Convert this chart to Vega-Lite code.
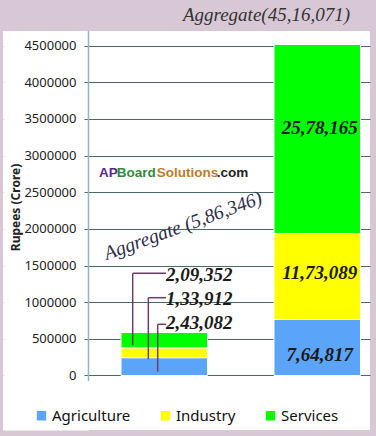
{
  "$schema": "https://vega.github.io/schema/vega-lite/v6.json",
  "width": 367,
  "height": 399,
  "autosize": {"type": "none"},
  "padding": {"left": 3, "top": 31, "right": 6, "bottom": 6},
  "background": "#d8c8d6",
  "config": {"view": {"fill": "white", "stroke": null}, "font": "Noto Sans"},
  "title": {"text": "Aggregate(45,16,071)", "anchor": "end", "dx": -20, "offset": -9.7, "baseline": "alphabetic", "font": "Liberation Serif", "fontStyle": "italic", "fontWeight": "normal", "fontSize": 19, "color": "#333333"},
  "datasets": {
    "main": [
      {"period": "1972-73", "sector": "Agriculture", "value": 243082, "label": "2,43,082"},
      {"period": "1972-73", "sector": "Industry", "value": 133912, "label": "1,33,912"},
      {"period": "1972-73", "sector": "Services", "value": 209352, "label": "2,09,352"},
      {"period": "2009-10", "sector": "Agriculture", "value": 764817, "label": "7,64,817"},
      {"period": "2009-10", "sector": "Industry", "value": 1173089, "label": "11,73,089"},
      {"period": "2009-10", "sector": "Services", "value": 2578165, "label": "25,78,165"}
    ]
  },
  "data": {"name": "main"},
  "resolve": {"axis": {"y": "independent"}},
  "layer": [
    {
      "mark": {"type": "bar", "stroke": "white", "strokeWidth": 1},
      "encoding": {
        "x": {"field": "period", "type": "nominal",
          "scale": {"paddingInner": 0.4346, "paddingOuter": 0.4167, "align": 0.9255},
          "axis": {"title": null, "orient": "bottom", "offset": -54.5, "domain": false, "grid": false, "tickBand": "extent", "ticks": true, "tickSize": 5.5, "tickColor": "#8fbcbc", "tickWidth": 1, "labelAngle": 0, "labelFontSize": 13, "labelFont": "Noto Sans", "labelColor": "#222222", "labelPadding": 11}},
        "y": {"field": "value", "type": "quantitative", "stack": "zero",
          "scale": {"domain": [-743700, 4700600], "zero": false, "nice": false},
          "axis": {"orient": "left", "values": [0, 500000, 1000000, 1500000, 2000000, 2500000, 3000000, 3500000, 4000000, 4500000], "grid": true, "gridColor": "#4d6868", "gridWidth": 1, "domain": false, "ticks": false, "labels": false, "title": null}},
        "color": {"field": "sector", "type": "nominal",
          "scale": {"domain": ["Agriculture", "Industry", "Services"], "range": ["#5aa5fa", "#ffff00", "#00ff00"]},
          "legend": {"orient": "none", "legendX": 31, "legendY": 377, "direction": "horizontal", "title": null, "symbolType": "square", "symbolSize": 110, "symbolStrokeWidth": 1, "labelFontSize": 15, "labelFont": "Noto Sans", "labelColor": "#111111", "labelOffset": 3, "columnPadding": 27, "padding": 0}},
        "order": {"field": "sector", "sort": "ascending"}
      }
    },
    {
      "transform": [{"filter": "datum.period === '1972-73' && datum.sector === 'Agriculture'"}],
      "mark": {"type": "point", "opacity": 0},
      "encoding": {
        "y": {"datum": 0, "type": "quantitative",
          "axis": {"orient": "left", "offset": -42.75, "domain": true, "domainColor": "white", "domainWidth": 85.5, "domainOpacity": 1, "ticks": false, "labels": false, "grid": false, "title": null}}
      }
    },
    {
      "transform": [{"filter": "datum.period === '1972-73' && datum.sector === 'Agriculture'"}],
      "mark": {"type": "rule", "color": "#8cbaba", "strokeWidth": 1.5},
      "encoding": {
        "x": {"field": "period", "type": "nominal", "bandPosition": -0.376, "axis": null},
        "y": {"datum": 4700600, "type": "quantitative",
          "axis": {"orient": "left", "offset": -85.5, "domain": false, "grid": false, "values": [0, 500000, 1000000, 1500000, 2000000, 2500000, 3000000, 3500000, 4000000, 4500000], "format": "d", "ticks": true, "tickSize": 4.5, "tickColor": "#4d6868", "labelFont": "Noto Sans", "labelFontSize": 13, "labelColor": "#222222", "labelPadding": 8, "title": "Rupees (Crore)", "titleFont": "Noto Sans", "titleFontSize": 12, "titleFontWeight": "bold", "titleColor": "#222222", "titleX": -73.5, "titleY": 176, "titleAngle": -90, "titleBaseline": "middle", "titleAlign": "center"}},
        "y2": {"datum": -75000}
      }
    },
    {
      "transform": [{"filter": "datum.period === '1972-73' && datum.sector === 'Services'"}],
      "mark": {"type": "rule", "color": "#6e3d66", "strokeWidth": 1.5},
      "encoding": {
        "x": {"field": "period", "type": "nominal", "bandPosition": 0.135, "axis": null},
        "y": {"datum": 1394500, "type": "quantitative", "axis": null},
        "y2": {"datum": 416160}
      }
    },
    {
      "transform": [{"filter": "datum.period === '1972-73' && datum.sector === 'Services'"}],
      "mark": {"type": "rule", "color": "#6e3d66", "strokeWidth": 1.5},
      "encoding": {
        "x": {"field": "period", "type": "nominal", "bandPosition": 0.135, "axis": null},
        "x2": {"field": "period", "bandPosition": 0.52},
        "y": {"datum": 1394500, "type": "quantitative", "axis": null}
      }
    },
    {
      "transform": [{"filter": "datum.period === '1972-73' && datum.sector === 'Industry'"}],
      "mark": {"type": "rule", "color": "#6e3d66", "strokeWidth": 1.5},
      "encoding": {
        "x": {"field": "period", "type": "nominal", "bandPosition": 0.316, "axis": null},
        "y": {"datum": 1061550, "type": "quantitative", "axis": null},
        "y2": {"datum": 221040}
      }
    },
    {
      "transform": [{"filter": "datum.period === '1972-73' && datum.sector === 'Industry'"}],
      "mark": {"type": "rule", "color": "#6e3d66", "strokeWidth": 1.5},
      "encoding": {
        "x": {"field": "period", "type": "nominal", "bandPosition": 0.316, "axis": null},
        "x2": {"field": "period", "bandPosition": 0.52},
        "y": {"datum": 1061550, "type": "quantitative", "axis": null}
      }
    },
    {
      "transform": [{"filter": "datum.period === '1972-73' && datum.sector === 'Agriculture'"}],
      "mark": {"type": "rule", "color": "#6e3d66", "strokeWidth": 1.5},
      "encoding": {
        "x": {"field": "period", "type": "nominal", "bandPosition": 0.424, "axis": null},
        "y": {"datum": 698600, "type": "quantitative", "axis": null},
        "y2": {"datum": 51850}
      }
    },
    {
      "transform": [{"filter": "datum.period === '1972-73' && datum.sector === 'Agriculture'"}],
      "mark": {"type": "rule", "color": "#6e3d66", "strokeWidth": 1.5},
      "encoding": {
        "x": {"field": "period", "type": "nominal", "bandPosition": 0.424, "axis": null},
        "x2": {"field": "period", "bandPosition": 0.52},
        "y": {"datum": 698600, "type": "quantitative", "axis": null}
      }
    },
    {
      "transform": [{"filter": "datum.period === '1972-73' && datum.sector === 'Services'"}],
      "mark": {"type": "text", "align": "left", "baseline": "middle", "font": "Liberation Serif", "fontStyle": "italic", "fontWeight": "bold", "fontSize": 19, "color": "#1a1a1a"},
      "encoding": {
        "x": {"field": "period", "type": "nominal", "bandPosition": 0.52, "axis": null},
        "y": {"datum": 1378000, "type": "quantitative", "axis": null},
        "text": {"field": "label"}
      }
    },
    {
      "transform": [{"filter": "datum.period === '1972-73' && datum.sector === 'Industry'"}],
      "mark": {"type": "text", "align": "left", "baseline": "middle", "font": "Liberation Serif", "fontStyle": "italic", "fontWeight": "bold", "fontSize": 19, "color": "#1a1a1a"},
      "encoding": {
        "x": {"field": "period", "type": "nominal", "bandPosition": 0.52, "axis": null},
        "y": {"datum": 1046500, "type": "quantitative", "axis": null},
        "text": {"field": "label"}
      }
    },
    {
      "transform": [{"filter": "datum.period === '1972-73' && datum.sector === 'Agriculture'"}],
      "mark": {"type": "text", "align": "left", "baseline": "middle", "font": "Liberation Serif", "fontStyle": "italic", "fontWeight": "bold", "fontSize": 19, "color": "#1a1a1a"},
      "encoding": {
        "x": {"field": "period", "type": "nominal", "bandPosition": 0.52, "axis": null},
        "y": {"datum": 719000, "type": "quantitative", "axis": null},
        "text": {"field": "label"}
      }
    },
    {
      "transform": [{"filter": "datum.period === '2009-10' && datum.sector === 'Services'"}],
      "mark": {"type": "text", "align": "center", "baseline": "middle", "dx": 2.5, "font": "Liberation Serif", "fontStyle": "italic", "fontWeight": "bold", "fontSize": 19, "color": "#1a1a1a"},
      "encoding": {
        "x": {"field": "period", "type": "nominal", "axis": null},
        "y": {"datum": 3377000, "type": "quantitative", "axis": null},
        "text": {"field": "label"}
      }
    },
    {
      "transform": [{"filter": "datum.period === '2009-10' && datum.sector === 'Industry'"}],
      "mark": {"type": "text", "align": "center", "baseline": "middle", "dx": 2.5, "font": "Liberation Serif", "fontStyle": "italic", "fontWeight": "bold", "fontSize": 19, "color": "#1a1a1a"},
      "encoding": {
        "x": {"field": "period", "type": "nominal", "axis": null},
        "y": {"datum": 1398600, "type": "quantitative", "axis": null},
        "text": {"field": "label"}
      }
    },
    {
      "transform": [{"filter": "datum.period === '2009-10' && datum.sector === 'Agriculture'"}],
      "mark": {"type": "text", "align": "center", "baseline": "middle", "dx": 2.5, "font": "Liberation Serif", "fontStyle": "italic", "fontWeight": "bold", "fontSize": 19, "color": "#1a1a1a"},
      "encoding": {
        "x": {"field": "period", "type": "nominal", "axis": null},
        "y": {"datum": 279700, "type": "quantitative", "axis": null},
        "text": {"field": "label"}
      }
    },
    {
      "transform": [{"filter": "datum.period === '1972-73' && datum.sector === 'Agriculture'"}],
      "mark": {"type": "text", "align": "center", "baseline": "middle", "angle": 340, "dx": 20, "font": "Liberation Serif", "fontStyle": "italic", "fontSize": 19.5, "color": "#2d2d48"},
      "encoding": {
        "x": {"field": "period", "type": "nominal", "axis": null},
        "y": {"datum": 1947000, "type": "quantitative", "axis": null},
        "text": {"value": "Aggregate (5,86,346)"}
      }
    },
    {
      "transform": [{"filter": "datum.period === '1972-73' && datum.sector === 'Agriculture'"}],
      "mark": {"type": "text", "align": "left", "baseline": "middle", "dx": -22, "font": "Liberation Sans", "fontWeight": "bold", "fontSize": 13.5, "color": "#5a2a8a"},
      "encoding": {
        "x": {"field": "period", "type": "nominal", "bandPosition": 0, "axis": null},
        "y": {"datum": 2767000, "type": "quantitative", "axis": null},
        "text": {"value": "AP"}
      }
    },
    {
      "transform": [{"filter": "datum.period === '1972-73' && datum.sector === 'Agriculture'"}],
      "mark": {"type": "text", "align": "left", "baseline": "middle", "dx": -4.3, "font": "Liberation Sans", "fontWeight": "bold", "fontSize": 13.5, "color": "#2e8b3a"},
      "encoding": {
        "x": {"field": "period", "type": "nominal", "bandPosition": 0, "axis": null},
        "y": {"datum": 2767000, "type": "quantitative", "axis": null},
        "text": {"value": "Board"}
      }
    },
    {
      "transform": [{"filter": "datum.period === '1972-73' && datum.sector === 'Agriculture'"}],
      "mark": {"type": "text", "align": "left", "baseline": "middle", "dx": 35.7, "font": "Liberation Sans", "fontWeight": "bold", "fontSize": 13.5, "color": "#c07a2a"},
      "encoding": {
        "x": {"field": "period", "type": "nominal", "bandPosition": 0, "axis": null},
        "y": {"datum": 2767000, "type": "quantitative", "axis": null},
        "text": {"value": "Solutions"}
      }
    },
    {
      "transform": [{"filter": "datum.period === '1972-73' && datum.sector === 'Agriculture'"}],
      "mark": {"type": "text", "align": "left", "baseline": "middle", "dx": 95.7, "font": "Liberation Sans", "fontWeight": "bold", "fontSize": 13.5, "color": "#222222"},
      "encoding": {
        "x": {"field": "period", "type": "nominal", "bandPosition": 0, "axis": null},
        "y": {"datum": 2767000, "type": "quantitative", "axis": null},
        "text": {"value": ".com"}
      }
    }
  ]
}
